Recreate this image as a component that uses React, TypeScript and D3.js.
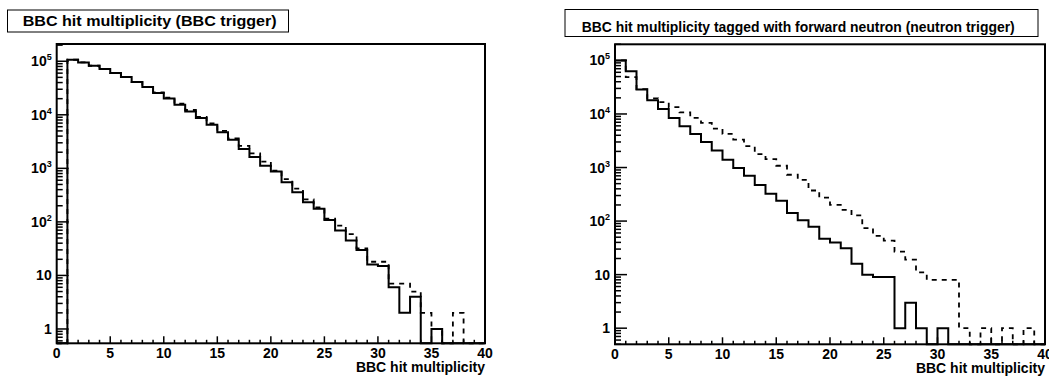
import * as d3 from "d3";

// bin contents, 40 unit bins from 0 to 40
const bbcTrigSolid = [
  0, 106700, 95000, 82400, 71400, 60100, 50600, 40800, 33000, 25400,
  20200, 15400, 11500, 8700, 6500, 4740, 3410, 2290, 1620, 1120,
  870, 552, 359, 233, 175, 109, 69, 45, 30, 16,
  15, 6, 2, 4, 0, 1, 0, 0, 0, 0,
];
const bbcTrigDashed = [
  0, 106700, 95000, 82400, 71400, 60100, 50600, 40800, 33000, 26300,
  20900, 16200, 12300, 9100, 6900, 5000, 3630, 2630, 1900, 1340,
  910, 630, 417, 263, 186, 115, 85, 59, 32, 18,
  18, 7, 7, 5, 2, 1, 0, 2, 0, 0,
];
const neutronSolid = [
  100000, 63000, 28600, 18000, 12400, 8450, 5890, 4240, 3000, 2070,
  1400, 980, 702, 470, 323, 239, 141, 104, 78, 47,
  40, 31, 16, 10, 9, 9, 1, 3, 1, 0,
  1, 0, 0, 0, 0, 0, 0, 0, 0, 0,
];
const neutronDashed = [
  100000, 48600, 29000, 19500, 16600, 13400, 10700, 8450, 6800, 5330,
  4240, 3320, 2500, 1780, 1440, 1080, 733, 590, 372, 275,
  200, 162, 128, 74, 53, 43, 27, 19, 11, 8,
  8, 8, 1, 0, 1, 0, 1, 0, 1, 0,
];

const xMajorTicks = [0, 5, 10, 15, 20, 25, 30, 35, 40];
const yDecades = [1, 10, 100, 1000, 10000, 100000];
const xAxisTitle = "BBC hit multiplicity";
const leftTitle = "BBC hit multiplicity (BBC trigger)";
const rightTitle = "BBC hit multiplicity tagged with forward neutron (neutron trigger)";

const FONT = "'Liberation Sans', Arial, Helvetica, sans-serif";

type Box = { x: number; y: number; w: number; h: number; tx: number; baseline: number; tl: number };

type PanelProps = {
  left: number;
  right: number;
  top: number;
  bottom: number;
  yMin: number;
  yMax: number;
  solid: number[];
  dashed: number[];
  title: string;
  box: Box;
};

function Panel({ left, right, top, bottom, yMin, yMax, solid, dashed, title, box }: PanelProps) {
  const x = d3.scaleLinear().domain([0, 40]).range([left, right]);
  const y = d3.scaleLog().domain([yMin, yMax]).range([bottom, top]).clamp(true);

  const histPath = (vals: number[]) => {
    const pts: [number, number][] = [[0, yMin], ...vals.map((v, i) => [i, v] as [number, number]), [40, vals[vals.length - 1]], [40, yMin]];
    return d3.line<[number, number]>()
      .x(d => x(d[0]))
      .y(d => y(Math.max(d[1], yMin)))
      .curve(d3.curveStepAfter)(pts) ?? "";
  };

  const minorY: number[] = [];
  for (let k = Math.floor(Math.log10(yMin)); k <= Math.ceil(Math.log10(yMax)); k++) {
    for (let m = 2; m <= 9; m++) {
      const v = m * Math.pow(10, k);
      if (v >= yMin && v <= yMax) minorY.push(v);
    }
  }
  const minorX = d3.range(0, 41).filter(v => v % 5 !== 0);

  return (
    <g>
      <rect x={box.x} y={box.y} width={box.w} height={box.h} fill="white" stroke="black" strokeWidth={1} />
      <text x={box.tx} y={box.baseline} fontFamily={FONT} fontWeight="bold" fontSize={14}
        textLength={box.tl} lengthAdjust="spacingAndGlyphs">{title}</text>

      <path d={histPath(dashed)} fill="none" stroke="black" strokeWidth={1.8} strokeDasharray="5,5" />
      <path d={histPath(solid)} fill="none" stroke="black" strokeWidth={2} />

      <rect x={left} y={top} width={right - left} height={bottom - top} fill="none" stroke="black" strokeWidth={2} />

      {xMajorTicks.map(t => (
        <g key={"xm" + t}>
          <line x1={x(t)} x2={x(t)} y1={bottom} y2={bottom - 7} stroke="black" strokeWidth={1.5} />
          <text x={x(t)} y={bottom + 15} textAnchor="middle" fontFamily={FONT} fontWeight="bold" fontSize={14}>{t}</text>
        </g>
      ))}
      {minorX.map(t => (
        <line key={"xn" + t} x1={x(t)} x2={x(t)} y1={bottom} y2={bottom - 3.5} stroke="black" strokeWidth={1.5} />
      ))}

      {yDecades.filter(v => v >= yMin && v <= yMax).map(v => {
        const e = Math.round(Math.log10(v));
        return (
          <g key={"ym" + v}>
            <line x1={left} x2={left + 12} y1={y(v)} y2={y(v)} stroke="black" strokeWidth={1.5} />
            <text x={left - 5} y={y(v) + 5} textAnchor="end" fontFamily={FONT} fontWeight="bold" fontSize={14}>
              {e < 2 ? String(v) : <>10<tspan fontSize={9} dy={-6}>{e}</tspan></>}
            </text>
          </g>
        );
      })}
      {minorY.map(v => (
        <line key={"yn" + v} x1={left} x2={left + 6} y1={y(v)} y2={y(v)} stroke="black" strokeWidth={1.5} />
      ))}

      <text x={right} y={bottom + 29} textAnchor="end" fontFamily={FONT} fontWeight="bold" fontSize={14}>{xAxisTitle}</text>
    </g>
  );
}

export default function App() {
  return (
    <svg width={1049} height={376} style={{ position: "absolute", left: 0, top: 0, background: "white" }}>
      <Panel left={56.7} right={485} top={44} bottom={343.3} yMin={0.54} yMax={2.1e5}
        solid={bbcTrigSolid} dashed={bbcTrigDashed} title={leftTitle}
        box={{ x: 7.5, y: 10, w: 281, h: 22, tx: 22.7, baseline: 26, tl: 254 }} />
      <Panel left={615} right={1045} top={44.3} bottom={344.3} yMin={0.5} yMax={2.0e5}
        solid={neutronSolid} dashed={neutronDashed} title={rightTitle}
        box={{ x: 565, y: 9.5, w: 473, h: 27, tx: 581.7, baseline: 31.5, tl: 433 }} />
    </svg>
  );
}
